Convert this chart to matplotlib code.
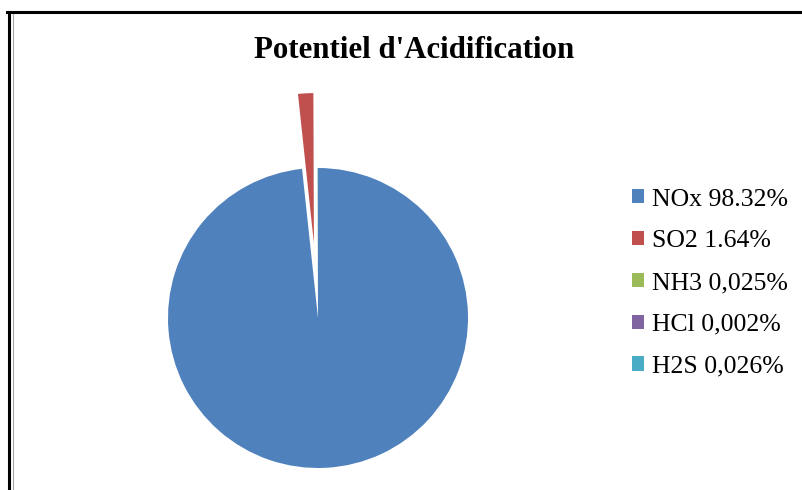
import matplotlib
matplotlib.use("Agg")
import matplotlib.pyplot as plt
from matplotlib.lines import Line2D
from matplotlib.patches import Patch

# data
gases = ["NOx", "SO2", "NH3", "HCl", "H2S"]
shares = [98.32, 1.64, 0.025, 0.002, 0.026]
label_values = ["98.32%", "1.64%", "0,025%", "0,002%", "0,026%"]
explode = [0, 0.5, 0, 0, 0]
colors = ["#4F81BD", "#C0504D", "#9BBB59", "#8064A2", "#4BACC6"]

W, H = 802, 490
fig = plt.figure(figsize=(W / 100, H / 100), dpi=100)
serif = ["Liberation Serif", "DejaVu Serif"]

# pie axes: centre at (318, 318) px from top-left, radius 150 px
size = 500
cx, cy = 318, H - 318
ax = fig.add_axes([(cx - size / 2) / W, (cy - size / 2) / H, size / W, size / H])
lim = size / 2 / 150
ax.pie(shares, explode=explode, colors=colors, startangle=90,
       counterclock=False, wedgeprops=dict(linewidth=0))
ax.set_xlim(-lim, lim)
ax.set_ylim(-lim, lim)
ax.set_aspect("equal")
ax.axis("off")

fig.text(414 / W, 1 - 51 / H, "Potentiel d'Acidification", ha="center",
         va="center", fontsize=22.2, fontweight="bold", family=serif)

handles = [Patch(facecolor=c, edgecolor="none") for c in colors]
labels = [f"{g} {v}" for g, v in zip(gases, label_values)]
fig.legend(handles, labels, loc="upper left",
           bbox_to_anchor=(632 / W, 1 - 188.5 / H), frameon=False,
           prop=dict(family=serif, size=18.5), borderpad=0, borderaxespad=0,
           handlelength=0.47, handleheight=0.47, handletextpad=0.3,
           labelspacing=0.77)

# frame lines
fig.add_artist(Line2D([7 / W, 1], [1 - 12.5 / H] * 2, color="black", lw=2.2))
fig.add_artist(Line2D([9 / W] * 2, [0, 1 - 12.5 / H], color="black", lw=2.2))
fig.add_artist(Line2D([12.5 / W] * 2, [0, 1 - 14 / H], color="#a8a8a8", lw=0.8))

fig.savefig("out.png", dpi=100)
